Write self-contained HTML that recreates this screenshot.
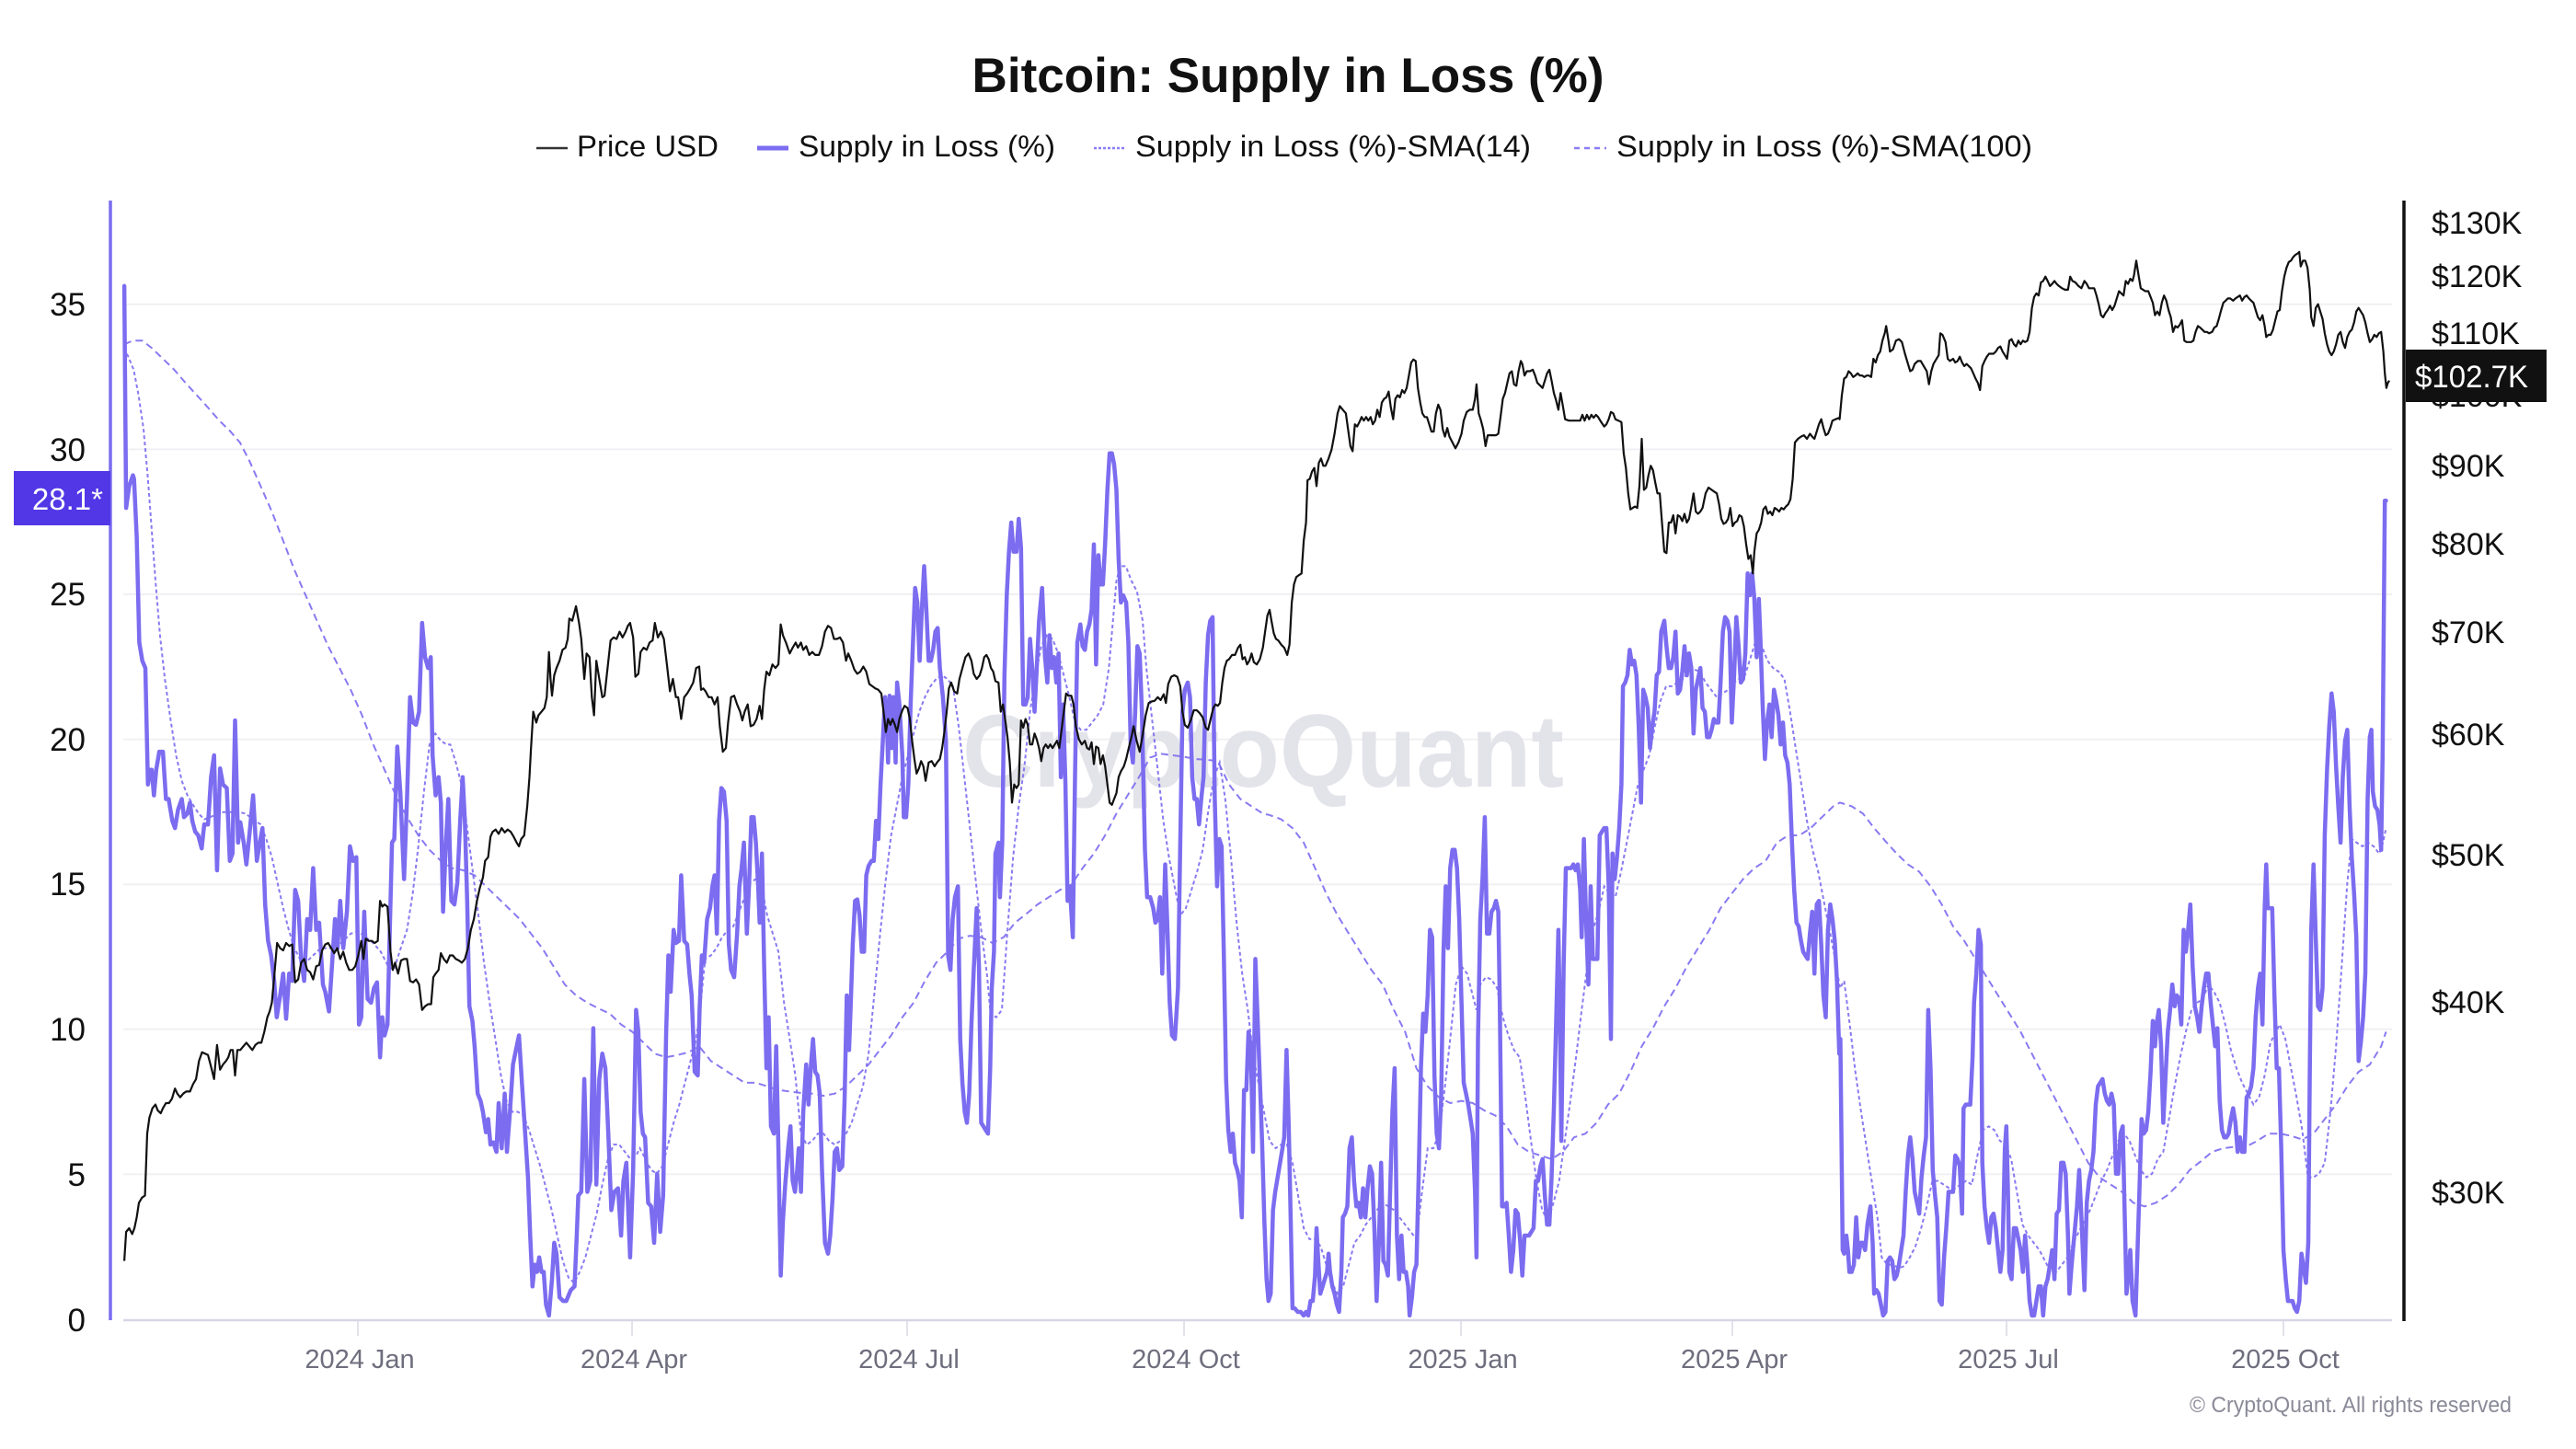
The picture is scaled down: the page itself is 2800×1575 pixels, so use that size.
<!DOCTYPE html>
<html>
<head>
<meta charset="utf-8">
<style>
  html,body{margin:0;padding:0;background:#ffffff;}
  body{width:2800px;height:1575px;overflow:hidden;}
  svg{display:block;}
  text{font-family:"Liberation Sans", Arial, sans-serif;}
</style>
</head>
<body>
<svg id="chart" width="2800" height="1575" viewBox="0 0 2800 1575" xmlns="http://www.w3.org/2000/svg">
  <rect x="0" y="0" width="2800" height="1575" fill="#ffffff"/>

  <!-- Title -->
  <text x="1400" y="100" text-anchor="middle" font-size="53" font-weight="bold" fill="#111111" textLength="687" lengthAdjust="spacingAndGlyphs">Bitcoin: Supply in Loss (%)</text>

  <!-- Legend -->
  <line x1="583" y1="161" x2="617" y2="161" stroke="#333333" stroke-width="2.5"/>
  <text x="627" y="170" font-size="32.5" fill="#111111" textLength="154" lengthAdjust="spacingAndGlyphs">Price USD</text>
  <line x1="823" y1="161" x2="857" y2="161" stroke="#7b6cf0" stroke-width="5"/>
  <text x="868" y="170" font-size="32.5" fill="#111111" textLength="279" lengthAdjust="spacingAndGlyphs">Supply in Loss (%)</text>
  <line x1="1189" y1="161" x2="1223" y2="161" stroke="#8a7df5" stroke-width="2.5" stroke-dasharray="3 2"/>
  <text x="1234" y="170" font-size="32.5" fill="#111111" textLength="430" lengthAdjust="spacingAndGlyphs">Supply in Loss (%)-SMA(14)</text>
  <line x1="1711" y1="161" x2="1746" y2="161" stroke="#8a7df5" stroke-width="2.5" stroke-dasharray="6 5"/>
  <text x="1757" y="170" font-size="32.5" fill="#111111" textLength="452" lengthAdjust="spacingAndGlyphs">Supply in Loss (%)-SMA(100)</text>

  <!-- Gridlines -->
  <g stroke="#f0f0f4" stroke-width="2">
    <line x1="134" y1="330.8" x2="2600" y2="330.8"/>
    <line x1="134" y1="488.4" x2="2600" y2="488.4"/>
    <line x1="134" y1="646" x2="2600" y2="646"/>
    <line x1="134" y1="803.6" x2="2600" y2="803.6"/>
    <line x1="134" y1="961.2" x2="2600" y2="961.2"/>
    <line x1="134" y1="1118.8" x2="2600" y2="1118.8"/>
    <line x1="134" y1="1276.4" x2="2600" y2="1276.4"/>
  </g>

  <!-- Watermark -->
  <text x="1046" y="855" font-size="112" font-weight="bold" fill="#e3e3ea" textLength="654" lengthAdjust="spacingAndGlyphs">CryptoQuant</text>

  <!-- Series -->
  <path id="sma100" d="" fill="none" stroke="#7b6cf0" stroke-width="2" stroke-dasharray="8 5" opacity="0.9"/>
  <path id="sma14" d="" fill="none" stroke="#7b6cf0" stroke-width="2" stroke-dasharray="4 3" opacity="0.9"/>
  <path id="supply" d="" fill="none" stroke="#7b6cf0" stroke-width="4.5" stroke-linejoin="round" stroke-linecap="round"/>
  <path id="price" d="" fill="none" stroke="#111111" stroke-width="2.2" stroke-linejoin="round"/>

  <!-- Bottom axis -->
  <line x1="134" y1="1435" x2="2600" y2="1435" stroke="#d6d6e6" stroke-width="2.5"/>
  <g stroke="#e2e2ea" stroke-width="2">
    <line x1="389" y1="1436" x2="389" y2="1452"/>
    <line x1="687" y1="1436" x2="687" y2="1452"/>
    <line x1="986" y1="1436" x2="986" y2="1452"/>
    <line x1="1287" y1="1436" x2="1287" y2="1452"/>
    <line x1="1588" y1="1436" x2="1588" y2="1452"/>
    <line x1="1883" y1="1436" x2="1883" y2="1452"/>
    <line x1="2181" y1="1436" x2="2181" y2="1452"/>
    <line x1="2482" y1="1436" x2="2482" y2="1452"/>
  </g>
  <g font-size="29" fill="#6e6e7e" text-anchor="middle">
    <text x="391" y="1487">2024 Jan</text>
    <text x="689" y="1487">2024 Apr</text>
    <text x="988" y="1487">2024 Jul</text>
    <text x="1289" y="1487">2024 Oct</text>
    <text x="1590" y="1487">2025 Jan</text>
    <text x="1885" y="1487">2025 Apr</text>
    <text x="2183" y="1487">2025 Jul</text>
    <text x="2484" y="1487">2025 Oct</text>
  </g>

  <!-- Left axis -->
  <line x1="120" y1="218" x2="120" y2="1435" stroke="#7b6cf0" stroke-width="3.5"/>
  <g font-size="35" fill="#111111" text-anchor="end">
    <text x="93" y="343">35</text>
    <text x="93" y="501">30</text>
    <text x="93" y="658">25</text>
    <text x="93" y="816">20</text>
    <text x="93" y="973">15</text>
    <text x="93" y="1131">10</text>
    <text x="93" y="1289">5</text>
    <text x="93" y="1447">0</text>
  </g>
  <rect x="15" y="512" width="105" height="59" fill="#5137e6"/>
  <text x="112" y="554" font-size="33" fill="#ffffff" text-anchor="end">28.1*</text>

  <!-- Right axis -->
  <line x1="2613" y1="218" x2="2613" y2="1436" stroke="#111111" stroke-width="3.5"/>
  <g font-size="34" fill="#111111">
    <text x="2643" y="254">$130K</text>
    <text x="2643" y="312">$120K</text>
    <text x="2643" y="374">$110K</text>
    <text x="2643" y="442">$100K</text>
    <text x="2643" y="518">$90K</text>
    <text x="2643" y="603">$80K</text>
    <text x="2643" y="699">$70K</text>
    <text x="2643" y="810">$60K</text>
    <text x="2643" y="941">$50K</text>
    <text x="2643" y="1101">$40K</text>
    <text x="2643" y="1308">$30K</text>
  </g>
  <rect x="2615" y="380" width="153" height="57" fill="#111111"/>
  <text x="2625" y="421" font-size="34" fill="#ffffff" textLength="123" lengthAdjust="spacingAndGlyphs">$102.7K</text>

  <!-- Copyright -->
  <text x="2730" y="1535" font-size="24" fill="#8a8a98" text-anchor="end" textLength="350" lengthAdjust="spacingAndGlyphs">© CryptoQuant. All rights reserved</text>
</svg>

<script>
(function(){
  var S = 2.45, T = 1.26452;
  function build(segs){
    var pts = [], maxX = -1;
    for (var s = 0; s < segs.length; s++){
      var cx = segs[s][0], arr = segs[s][1];
      for (var i = 0; i < arr.length; i += 2){
        var X = cx + arr[i]/S, Y = 220 + arr[i+1]/T;
        if (X > maxX + 0.01){ pts.push(X.toFixed(1) + ',' + Y.toFixed(1)); maxX = X; }
      }
    }
    return 'M' + pts.join('L');
  }

  var supply = [
    [120,[37,115,42,420,50,390,60,375,63,380,70,460,77,605,85,630,93,640,100,800,106,780,110,780,116,815,122,780,130,755,140,755,148,820,155,820,165,850,172,860,180,835,190,820,196,845,205,840,212,825,218,850,226,865,234,870,243,888,250,855,260,855,268,790,276,760,284,918,292,778,300,800,310,805,318,905,325,895,332,712,340,880,346,852,355,880,362,910,372,860,380,815,390,905,398,880,405,860,412,965,420,1015,428,1035,436,1070,443,1120,452,1090,460,1060,468,1122,476,1060,484,1070,492,945,500,960,508,1040,516,1070,524,985,532,1000,540,915,548,1000,556,990,566,1075,572,1085,582,1112,590,1050,598,985,605,1025,612,960,620,1025,630,975,638,885,646,905,655,900,662,1130,668,1120,676,975,685,1095,694,1100,702,1080,710,1072,718,1175,724,1120,730,1145,738,1130,744,1000,750,880,756,875,764,748,772,810,782,930,790,820,798,680,806,715,814,718,822,700,830,578,838,625,846,640,853,625,858,760,866,815,874,790,880,825,886,975,893,885,900,820,908,960,916,965,924,935,932,845,938,790,944,850,950,960,956,1105,964,1125,970,1160,978,1225,986,1235,992,1250,1000,1278,1006,1260,1012,1295,1020,1292,1028,1305,1034,1238,1042,1300,1050,1225,1056,1305,1064,1250,1072,1185,1080,1165,1088,1145,1096,1210,1104,1275,1112,1340,1118,1420,1124,1490,1130,1460,1136,1470,1142,1450,1148,1470,1154,1470,1160,1515,1168,1530,1176,1480,1182,1430,1188,1445,1196,1505,1206,1510,1214,1510,1226,1495,1236,1490,1242,1420,1246,1365,1254,1360,1262,1205,1270,1360,1278,1345,1286,1135,1294,1350,1302,1205,1310,1170,1318,1190,1326,1280,1334,1385,1342,1360,1352,1355,1360,1420,1366,1345,1374,1320,1384,1450,1392,1330,1400,1110,1406,1140,1412,1250,1418,1280,1424,1285,1432,1375,1440,1380,1448,1430,1456,1335,1464,1415,1472,1365,1480,1140,1486,1035,1492,1085,1500,1000,1506,1018,1514,1015,1520,925,1528,1015,1536,1020,1542,1060,1548,1090,1556,1195,1564,1200]],
    [740,[50,1110,56,1035,62,1045,70,985,78,970,84,940,90,925,96,1005,102,850,108,805,115,810,122,850,128,1020,134,1055,142,1065,150,1005,156,940,162,915,168,880,176,1005,182,935,188,845,194,845,200,880,206,940,210,990,216,895,222,1050,228,1190,234,1120,240,1270,248,1280,254,1160,260,1300,266,1475,272,1400,278,1350,286,1300,292,1270,298,1345,304,1360,310,1330,314,1300,320,1360,326,1250,334,1185,340,1240,346,1190,352,1150,358,1195,364,1200,370,1225,376,1330,384,1430,392,1445,398,1420,404,1370,410,1305,416,1300,422,1330,430,1325,436,1235,442,1090,448,1165,452,1110,458,1020,464,960,470,958,476,980,482,1030,488,1030,494,925,500,912,508,905,514,905,520,850,526,875,532,800,538,740,544,680,548,700,552,770,556,678,562,750,566,680,572,770,576,660,582,690,590,760,594,845,600,845,606,800,612,690,618,610,624,530,630,550,636,630,642,560,648,500,654,560,660,630,666,630,672,615,678,590,684,585,690,640,698,680,706,740,712,1035,718,1055,724,985,730,955,738,940,744,1150,750,1210,756,1250,762,1265,768,1225,774,1130,780,1055,788,970,794,1050,800,1265,806,1270,812,1275,818,1280,824,1190,828,1080,834,1030,838,895,846,880,850,955,856,880,862,650,868,540,874,480,880,440,886,480,894,480,900,435,906,475,912,690,918,690,924,680,930,600,936,640,942,700,948,640,954,575,962,530,970,625,976,660,982,595,988,640,994,625,1000,660,1006,620,1012,790,1018,690,1024,795,1030,960,1036,940,1044,1010,1050,780,1056,605,1064,580,1070,610,1076,615,1082,590,1088,580,1094,560,1100,470,1106,635,1112,485,1118,525,1124,525,1130,470,1136,395,1142,345,1148,345,1154,360,1160,395,1166,490,1172,550,1178,540,1186,550,1192,605,1198,745,1204,770,1210,700,1216,610,1222,620,1228,700,1236,890,1242,955,1250,955,1258,970,1264,990,1270,985,1276,955,1282,1060,1290,910,1296,1000,1302,1100,1308,1145,1316,1150,1324,1080,1330,880,1336,700,1342,670,1350,660,1356,680,1362,790,1368,820,1374,820,1380,855,1386,820,1392,790,1398,660,1404,595,1410,575,1416,570,1422,820,1428,940,1434,875,1440,885,1446,1030,1452,1205,1458,1275,1464,1305,1470,1280,1476,1320,1482,1330,1488,1345,1494,1395,1500,1220,1506,1220,1512,1140,1518,1160,1524,1305,1530,1040,1536,1120,1542,1205,1548,1290,1554,1400,1560,1480,1565,1510]],
    [1360,[52,1500,58,1385,64,1360,72,1335,80,1310,88,1285,94,1165,100,1270,106,1420,110,1520,116,1520,124,1525,132,1525,140,1530,146,1525,152,1530,158,1510,164,1510,170,1475,174,1410,178,1450,184,1500,190,1490,196,1480,202,1470,206,1445,210,1470,216,1490,222,1500,228,1515,234,1525,240,1470,244,1395,250,1390,256,1380,262,1300,268,1285,274,1345,280,1380,286,1375,292,1395,298,1355,304,1395,310,1355,316,1325,322,1335,328,1410,334,1510,340,1430,346,1320,352,1455,358,1460,364,1475,370,1360,376,1250,382,1190,388,1420,394,1480,400,1420,406,1470,412,1470,418,1490,422,1530,428,1505,434,1470,440,1460,446,1340,452,1190,458,1115,464,1140,470,1090,476,1000,482,1010,488,1200,494,1280,500,1300,506,1230,512,1030,518,940,524,1025,530,915,536,890,542,890,548,915,554,985,560,1100,566,1210,572,1225,578,1240,584,1260,590,1280,596,1360,600,1450,604,1150,610,985,616,930,622,845,628,1005,634,1005,640,975,646,970,652,960,658,975,662,1100,668,1380,674,1380,680,1375,686,1420,692,1470,698,1440,704,1385,710,1390,716,1425,722,1475,728,1420,734,1420,740,1420,746,1415,752,1410,758,1345,764,1345,770,1325,776,1315,782,1365,788,1405,794,1405,800,1340,806,1245,812,1130,818,1000,822,1115,826,1290,832,1050,838,915,844,915,852,915,858,910,864,918,870,910,876,945,880,1010,886,875,892,990,898,1075,904,940,910,1040,916,1040,922,1040,928,870,934,865,940,860,946,860,952,940,958,1150,962,895,968,930,974,900,980,860,986,800,990,665,996,660,1002,650,1008,615,1014,635,1020,630,1026,650,1032,720,1038,825,1044,670,1050,680,1056,695,1062,750,1068,720,1074,700,1080,650,1086,645,1092,590,1100,575,1106,610,1112,640,1118,640,1124,625,1130,590,1136,675,1142,670,1148,645,1154,610,1160,650,1166,620,1172,640,1178,730,1184,670,1190,655,1196,640,1202,695,1208,700,1214,735,1220,735,1226,725,1232,710,1238,715,1244,715,1250,660,1256,590,1262,570,1268,575,1274,590,1280,715,1286,650,1292,570,1298,610,1304,660,1310,655,1316,620,1322,510,1328,540,1334,510,1340,545,1346,625,1352,545,1356,600,1362,690,1368,765,1374,715,1380,690,1386,735,1392,670,1398,685,1404,705,1410,745,1416,715,1422,760,1428,770,1434,800,1440,880,1446,945,1452,990,1458,995,1464,1015,1470,1030,1476,1035,1482,1040,1488,1005,1494,975,1500,1060,1506,965,1512,960,1518,1020,1524,1090,1530,1120,1536,1000,1542,965,1548,985,1554,1015,1560,1070,1566,1170]],
    [1980,[50,1150,56,1440,60,1445,66,1420,70,1440,74,1470,80,1470,86,1460,92,1395,98,1450,104,1430,110,1430,116,1440,122,1405,130,1380,136,1430,140,1500,146,1495,152,1500,158,1515,164,1530,170,1525,176,1455,182,1450,188,1455,194,1480,200,1475,206,1460,212,1440,218,1420,224,1360,230,1310,236,1285,242,1315,248,1360,254,1375,260,1390,266,1340,272,1310,278,1285,284,1110,290,1190,296,1330,302,1365,308,1395,314,1510,320,1515,326,1450,332,1410,338,1360,344,1360,350,1360,356,1310,362,1315,368,1325,374,1390,378,1245,384,1240,390,1240,396,1240,402,1175,406,1100,412,1060,418,1000,424,1020,428,1320,434,1380,440,1410,446,1430,452,1395,458,1390,464,1410,470,1440,476,1470,482,1440,488,1300,492,1270,496,1350,500,1470,506,1480,512,1410,518,1410,524,1425,530,1440,536,1470,542,1420,548,1460,554,1510,560,1530,566,1530,572,1510,578,1490,584,1490,590,1530,596,1490,602,1480,608,1460,614,1440,620,1480,626,1390,632,1385,638,1320,644,1320,650,1335,656,1420,660,1500,666,1460,672,1425,680,1380,686,1330,692,1395,700,1495,706,1375,712,1345,718,1330,724,1305,730,1240,736,1215,742,1210,748,1205,754,1225,760,1235,766,1240,772,1225,778,1240,784,1335,790,1335,796,1280,802,1270,808,1410,812,1500,818,1470,822,1440,828,1510,836,1530,840,1460,846,1365,852,1260,858,1280,864,1275,870,1250,876,1195,882,1125,888,1160,892,1130,898,1110,904,1160,910,1265,916,1200,922,1140,928,1110,934,1075,940,1105,946,1090,952,1095,958,1130,964,1000,970,1030,976,1000,982,965,988,1050,994,1105,1000,1120,1006,1140,1012,1105,1018,1080,1024,1060,1030,1060,1036,1100,1042,1130,1048,1160,1054,1135,1060,1235,1066,1275,1072,1285,1078,1285,1084,1280,1090,1260,1096,1245,1102,1265,1108,1305,1114,1285,1120,1305,1126,1305,1132,1230,1138,1225,1144,1215,1150,1190,1156,1120,1162,1080,1168,1060,1174,1130,1180,970,1184,910,1188,970,1194,970,1200,970,1206,1090,1212,1190,1218,1190,1224,1300,1230,1440,1236,1480,1242,1510,1248,1510,1254,1510,1260,1520,1266,1525,1272,1510,1278,1445,1284,1465,1290,1485,1296,1430,1300,1200,1304,1000,1310,910,1316,1010,1322,1105,1328,1110,1334,1080,1340,870,1346,780,1352,720,1358,675,1364,700,1370,775,1376,830,1382,880,1388,790,1394,740,1400,725,1406,830,1412,900,1418,950,1424,1010,1430,1180,1436,1155,1442,1120,1448,1060,1454,820,1460,735,1464,725,1468,810,1474,830,1480,835,1486,855,1490,890,1494,760,1500,410,1503,410]]
  ];

  var price = [
    [120,[37,1455,42,1415,50,1410,58,1418,64,1410,70,1395,76,1375,84,1368,92,1365,98,1280,104,1258,112,1245,120,1240,126,1248,134,1252,140,1245,148,1238,156,1238,164,1232,172,1218,178,1225,186,1230,194,1225,202,1222,212,1222,220,1212,228,1205,236,1180,244,1168,252,1170,260,1172,268,1188,276,1205,284,1158,292,1192,300,1185,308,1180,314,1175,320,1165,326,1165,332,1200,338,1165,346,1165,354,1160,362,1155,370,1160,378,1165,386,1158,394,1155,402,1155,410,1140,418,1120,424,1112,430,1100,436,1065,444,1018,452,1025,460,1028,468,1018,476,1022,484,1020,492,1072,500,1068,508,1045,516,1040,524,1055,532,1058,540,1068,548,1050,556,1048,564,1028,572,1020,580,1018,588,1025,596,1032,604,1025,612,1040,620,1030,628,1045,636,1055,644,1055,652,1050,660,1035,668,1015,674,1040,680,1012,688,1015,696,1015,704,1018,712,1015,718,960,724,968,730,965,738,968,746,1030,752,1055,758,1045,766,1060,774,1042,782,1040,790,1040,798,1070,806,1072,814,1068,822,1075,830,1110,838,1105,846,1102,854,1102,860,1065,866,1060,874,1055,880,1032,888,1040,896,1045,904,1035,912,1035,920,1040,928,1042,936,1045,944,1040,952,1025,960,1000,968,985,976,960,984,942,992,928,998,905,1006,900,1012,872,1018,865,1026,862,1034,868,1042,860,1050,866,1058,862,1066,865,1074,872,1082,880,1088,885,1094,875,1102,870,1110,830,1116,790,1120,752,1126,700,1134,715,1140,705,1148,700,1156,695,1162,680,1168,618,1172,655,1176,678,1182,650,1188,640,1196,630,1204,615,1212,612,1218,600,1222,572,1230,575,1240,555,1248,578,1254,600,1262,655,1268,620,1276,625,1282,680,1288,705,1294,630,1302,655,1310,680,1316,678,1324,640,1332,602,1340,598,1348,600,1356,590,1364,598,1372,590,1378,582,1384,578,1392,598,1398,652,1406,648,1412,618,1420,612,1428,615,1436,605,1444,602,1450,578,1458,598,1466,590,1474,600,1482,635,1490,672,1498,655,1506,680,1512,680,1520,710,1528,680,1536,675,1544,668,1552,660,1560,640,1568,638]],
    [740,[0,712,6,690,12,680,18,668,24,660,30,660,36,648,42,635,48,645,54,670,60,668,66,672,74,680,82,680,90,690,98,680,104,720,112,755,120,750,126,715,134,680,142,678,150,690,158,700,164,712,170,700,178,690,186,720,194,718,202,710,210,692,216,710,222,670,228,645,236,650,244,635,252,640,260,635,266,580,272,595,280,605,290,620,298,612,306,605,312,612,320,605,326,615,334,610,342,622,350,618,358,622,368,622,376,610,384,590,392,582,400,585,408,600,416,600,424,598,432,605,440,630,446,620,454,630,462,642,470,648,478,645,486,638,494,645,502,662,510,665,518,668,526,670,534,675,540,700,546,728,552,710,558,718,564,710,570,718,576,728,582,710,590,698,596,692,604,695,610,710,616,740,622,765,628,785,634,778,640,768,646,775,652,795,660,770,668,768,676,775,682,770,690,765,696,750,702,728,708,700,714,668,720,660,728,672,736,675,742,655,750,640,758,625,766,620,774,630,780,648,788,655,796,650,802,640,808,625,814,622,820,628,826,640,832,645,838,658,846,660,852,700,858,690,864,712,870,735,876,770,882,825,888,800,894,805,900,800,906,712,912,722,918,710,924,718,930,745,936,745,942,730,948,738,954,750,960,768,966,750,972,745,978,750,984,745,990,750,996,745,1002,740,1008,750,1014,725,1020,700,1026,675,1032,678,1040,678,1046,690,1052,720,1060,738,1068,745,1076,740,1082,750,1088,752,1094,742,1100,772,1106,748,1112,750,1118,772,1124,760,1130,775,1136,800,1142,825,1148,828,1154,820,1160,812,1166,790,1172,782,1180,775,1186,765,1192,752,1200,735,1206,720,1214,740,1222,755,1230,732,1238,705,1246,688,1254,686,1262,685,1270,680,1278,684,1286,676,1292,688,1298,662,1306,652,1314,650,1322,652,1330,665,1336,700,1342,718,1350,722,1358,712,1366,698,1374,698,1382,702,1390,708,1398,722,1404,725,1412,708,1418,695,1424,690,1430,692,1436,688,1442,660,1448,640,1454,630,1460,628,1468,622,1476,622,1484,612,1490,608,1496,628,1502,625,1508,635,1514,630,1520,620,1526,632,1534,635,1542,628,1550,612,1556,590,1562,568,1568,560]],
    [1360,[0,625,6,630,12,620,18,635,24,630,30,615,36,598,42,578,48,562,54,575,60,592,66,600,72,602,80,608,88,612,96,622,102,608,108,550,114,525,120,515,128,512,134,510,140,465,146,440,150,382,156,380,162,370,168,365,174,390,180,358,186,352,192,362,198,362,206,352,214,340,222,318,230,290,236,280,244,285,252,290,258,312,264,335,270,342,276,305,282,308,288,302,294,295,300,300,306,295,312,300,318,295,324,305,330,300,336,285,342,295,348,275,354,270,360,268,366,260,372,282,378,298,384,270,390,265,396,268,402,258,408,262,414,255,420,238,426,220,432,216,438,218,444,255,450,275,456,290,462,295,468,295,474,305,480,315,486,315,492,290,498,278,504,285,510,312,516,322,522,310,528,322,536,330,544,338,552,330,560,318,566,300,574,288,582,285,590,285,596,270,600,250,606,290,612,300,618,312,624,335,630,320,636,320,644,320,652,320,658,318,664,295,670,270,676,262,682,248,688,235,694,232,700,250,706,252,712,232,718,218,722,222,728,238,734,232,742,232,750,230,756,238,762,248,770,252,776,255,782,245,788,235,794,230,800,245,806,262,812,272,818,285,824,262,830,280,836,298,846,300,856,300,866,300,876,300,882,292,888,300,894,292,900,298,906,292,912,296,918,292,924,295,932,302,940,308,946,305,952,298,958,288,964,290,970,298,978,300,986,302,992,345,998,365,1004,400,1010,422,1016,420,1022,418,1028,420,1034,390,1040,325,1046,395,1052,392,1058,375,1064,362,1070,368,1076,385,1082,400,1088,400,1094,440,1100,480,1106,482,1112,440,1118,440,1124,430,1130,455,1136,430,1142,432,1148,438,1154,428,1160,440,1166,435,1172,418,1178,400,1184,425,1190,428,1196,425,1202,420,1210,400,1218,392,1226,395,1234,398,1240,400,1246,415,1252,435,1258,442,1264,440,1270,435,1276,420,1282,445,1288,440,1294,438,1300,430,1306,432,1312,445,1318,470,1324,490,1330,485,1336,510,1340,480,1346,455,1352,450,1358,440,1364,422,1370,418,1376,428,1382,425,1388,430,1394,420,1400,422,1406,425,1412,420,1418,422,1424,418,1430,415,1436,408,1442,380,1448,330,1456,325,1464,322,1472,320,1480,325,1488,318,1494,322,1500,325,1506,315,1512,305,1518,298,1524,310,1530,320,1536,318,1542,310,1548,300,1556,298,1566,296]],
    [1980,[0,305,6,300,12,298,18,305,24,318,30,322,36,312,42,300,48,298,54,265,60,242,66,240,72,232,78,235,84,240,90,238,96,235,102,238,108,238,114,240,120,238,126,238,132,240,138,215,144,220,150,210,156,205,162,190,168,180,172,170,178,190,182,205,190,202,198,190,206,188,214,192,222,208,230,222,236,232,242,230,248,222,256,218,264,218,272,225,280,232,286,250,292,232,298,222,306,215,312,210,316,180,322,182,330,192,336,215,342,218,350,215,356,220,362,218,368,212,374,220,380,225,386,222,392,225,398,228,404,235,410,242,416,248,422,258,428,225,434,218,440,212,446,208,452,208,458,208,464,205,470,200,476,198,482,205,488,210,494,215,500,190,506,188,512,195,518,198,524,190,530,195,536,190,542,192,548,190,554,178,560,145,566,130,572,125,578,128,584,110,590,108,596,102,602,108,608,115,614,112,620,108,626,112,632,115,640,118,648,120,656,120,662,102,668,108,676,110,684,115,692,118,700,108,706,112,712,118,718,118,726,118,732,128,738,140,744,155,750,158,756,152,762,148,768,142,774,148,780,142,786,132,792,122,798,125,804,128,810,108,816,112,822,105,828,108,832,100,838,80,844,100,850,118,856,120,862,122,870,122,876,130,882,138,888,155,894,150,900,155,906,138,912,128,918,135,924,148,930,158,936,178,942,170,948,172,954,168,960,162,966,190,972,192,978,192,984,192,990,190,996,178,1002,170,1008,172,1014,175,1020,178,1026,178,1032,180,1040,178,1046,172,1052,170,1058,160,1064,148,1070,138,1076,135,1082,132,1088,132,1096,135,1102,132,1108,130,1114,128,1120,135,1126,130,1132,128,1138,132,1144,135,1150,138,1156,148,1162,158,1168,162,1174,155,1180,170,1184,185,1190,182,1196,182,1202,175,1208,162,1214,150,1220,148,1226,122,1232,102,1238,90,1244,82,1250,80,1256,75,1262,72,1268,70,1272,68,1276,88,1282,80,1288,80,1294,90,1300,120,1304,158,1310,170,1316,145,1322,140,1328,150,1334,160,1340,180,1346,195,1352,205,1358,210,1364,205,1370,195,1376,182,1382,178,1388,192,1394,200,1400,185,1406,178,1412,175,1418,165,1424,150,1430,145,1436,150,1442,155,1448,165,1454,180,1460,192,1466,188,1472,182,1478,185,1484,180,1490,178,1496,205,1500,235,1504,255,1508,248,1512,245]]
  ];

  var sma14 = [
    [120,[37,200,50,215,62,230,75,265,88,310,100,380,110,450,120,520,132,595,145,655,160,710,175,760,190,795,205,815,220,828,235,840,250,848,265,845,280,842,300,838,320,838,340,838,360,840,380,848,400,855,415,875,430,900,445,935,460,970,475,1000,490,1025,505,1040,520,1045,540,1035,560,1025,580,1025,600,1025,620,1015,640,1005,660,1002,680,1010,700,1018,720,1030,740,1050,755,1055,770,1030,790,1000,805,950,820,885,835,810,850,745,865,730,880,740,895,745,905,745,920,770,935,800,950,860,965,920,980,980,995,1045,1010,1100,1025,1150,1040,1200,1055,1235,1070,1250,1085,1250,1100,1255,1115,1275,1130,1300,1145,1325,1160,1355,1175,1385,1190,1420,1205,1455,1220,1478,1235,1485,1250,1470,1265,1450,1280,1420,1295,1390,1310,1350,1325,1315,1340,1295,1355,1295,1370,1305,1385,1315,1400,1310,1410,1300,1425,1315,1440,1330,1455,1335,1470,1325,1485,1295,1500,1265,1515,1240,1530,1210,1545,1180,1560,1150,1568,1120]],
    [740,[49,1050,65,1040,80,1035,95,1025,110,1010,125,1000,140,995,155,975,170,955,185,935,200,930,215,940,230,980,245,1005,260,1030,275,1100,290,1150,305,1200,320,1280,335,1295,350,1290,365,1280,380,1280,395,1290,410,1295,425,1290,440,1280,455,1265,470,1240,485,1215,500,1170,515,1090,530,1010,545,935,560,870,575,830,590,790,605,760,620,730,635,700,650,680,665,665,680,655,695,650,710,655,725,665,740,720,755,790,770,860,785,930,800,1000,815,1060,825,1115,840,1120,855,1110,870,1000,885,900,900,830,915,775,930,700,945,650,960,610,975,595,990,600,1005,620,1020,650,1035,680,1050,715,1065,725,1080,725,1095,715,1110,705,1125,690,1140,640,1150,580,1160,520,1170,500,1185,500,1200,520,1215,535,1230,575,1240,640,1255,710,1270,780,1285,850,1300,900,1315,940,1330,980,1345,970,1360,945,1375,920,1390,890,1405,835,1420,790,1435,770,1450,820,1465,900,1480,990,1495,1060,1510,1110,1525,1175,1540,1215,1555,1255,1568,1290]],
    [1360,[49,1290,65,1300,80,1295,95,1295,110,1320,125,1365,140,1410,155,1425,170,1425,185,1435,200,1460,215,1485,230,1500,245,1490,260,1460,275,1430,290,1420,305,1405,320,1395,335,1385,350,1375,365,1380,380,1385,395,1395,410,1405,425,1415,440,1425,455,1360,470,1300,485,1300,500,1280,515,1220,530,1150,545,1075,560,1050,575,1060,590,1090,600,1110,610,1075,625,1065,640,1068,655,1080,670,1120,685,1145,700,1165,715,1175,730,1230,745,1290,760,1345,775,1385,790,1400,805,1375,820,1345,835,1290,850,1235,865,1175,880,1110,895,1050,910,1000,925,975,940,940,955,950,970,955,985,920,1000,880,1015,840,1030,800,1045,780,1060,760,1075,720,1090,685,1105,665,1120,665,1135,660,1150,655,1165,645,1180,642,1195,645,1210,660,1225,670,1240,680,1255,675,1270,670,1285,660,1300,655,1315,650,1330,625,1345,600,1360,610,1375,630,1390,640,1405,645,1420,655,1435,700,1450,750,1465,800,1480,850,1495,890,1510,920,1525,960,1540,1000,1555,1040,1568,1080]],
    [1980,[49,1040,60,1070,75,1130,90,1195,105,1250,120,1300,135,1350,150,1400,160,1450,175,1460,190,1460,205,1465,220,1462,235,1450,250,1435,265,1410,280,1380,295,1345,310,1345,325,1350,340,1355,355,1355,370,1350,385,1345,400,1350,415,1310,430,1275,445,1270,460,1275,475,1290,490,1295,505,1315,520,1360,535,1405,550,1420,565,1430,580,1440,595,1455,610,1470,625,1470,640,1460,655,1450,670,1430,685,1415,700,1400,715,1385,730,1365,745,1345,760,1330,775,1310,790,1290,805,1280,820,1290,835,1310,850,1330,865,1340,880,1335,895,1315,910,1305,925,1260,940,1215,955,1175,970,1140,985,1110,1000,1100,1015,1095,1030,1075,1045,1085,1060,1100,1075,1130,1090,1165,1105,1190,1120,1210,1135,1225,1150,1240,1165,1230,1180,1200,1195,1155,1210,1140,1220,1130,1235,1150,1250,1190,1265,1230,1280,1275,1295,1340,1310,1340,1325,1335,1340,1320,1355,1250,1370,1160,1385,1050,1400,935,1412,875,1425,880,1440,885,1455,880,1470,885,1485,895,1495,880,1503,860]]
  ];

  var sma100 = [
    [120,[37,195,60,190,85,190,110,200,140,215,170,230,200,248,230,265,260,282,290,300,320,315,345,330,370,355,400,390,430,425,460,465,490,505,520,540,550,575,580,610,610,640,640,670,670,705,700,745,730,780,760,815,790,845,820,870,850,890,880,905,910,915,940,918,970,925,1000,940,1030,955,1060,970,1090,985,1120,1005,1150,1025,1180,1050,1210,1075,1240,1090,1270,1100,1300,1108,1330,1115,1360,1130,1390,1140,1420,1155,1450,1170,1480,1175,1510,1172,1540,1168,1568,1160]],
    [740,[49,1170,80,1180,110,1190,140,1200,170,1210,200,1210,230,1215,260,1220,290,1222,320,1224,350,1225,380,1228,410,1225,440,1215,470,1200,500,1185,530,1165,560,1145,590,1120,620,1100,650,1070,680,1045,710,1030,740,1012,770,1008,800,1010,830,1018,860,1010,890,990,920,978,950,965,980,955,1010,945,1040,938,1070,915,1100,895,1130,870,1160,840,1190,815,1220,790,1250,763,1280,758,1310,760,1340,762,1370,765,1400,766,1430,768,1460,800,1490,820,1520,830,1550,840,1568,842]],
    [1360,[49,830,80,848,110,860,140,880,170,915,200,950,230,980,260,1005,290,1030,320,1055,350,1075,380,1110,410,1140,440,1190,470,1215,500,1230,530,1238,560,1235,590,1238,620,1248,650,1255,680,1270,710,1295,740,1305,770,1310,800,1315,830,1305,860,1285,890,1280,920,1265,950,1240,980,1225,1010,1195,1040,1160,1070,1135,1100,1105,1130,1080,1160,1050,1190,1025,1220,1000,1250,970,1280,950,1310,930,1340,915,1370,905,1400,880,1430,870,1460,870,1490,860,1520,845,1550,830,1568,825]],
    [1980,[49,825,80,830,110,840,140,860,170,878,200,895,230,910,260,920,290,940,320,965,350,995,380,1015,410,1040,440,1065,470,1090,500,1115,530,1140,560,1170,590,1200,620,1230,650,1260,680,1290,710,1320,740,1340,770,1350,800,1360,830,1375,860,1380,890,1375,920,1365,950,1350,980,1330,1010,1318,1040,1305,1070,1300,1100,1298,1130,1298,1160,1290,1190,1280,1220,1280,1250,1283,1280,1288,1310,1280,1340,1260,1370,1240,1400,1215,1430,1195,1460,1185,1490,1160,1503,1140]]
  ];

  document.getElementById('supply').setAttribute('d', build(supply));
  document.getElementById('price').setAttribute('d', build(price));
  document.getElementById('sma14').setAttribute('d', build(sma14));
  document.getElementById('sma100').setAttribute('d', build(sma100));
})();
</script>
</body>
</html>
